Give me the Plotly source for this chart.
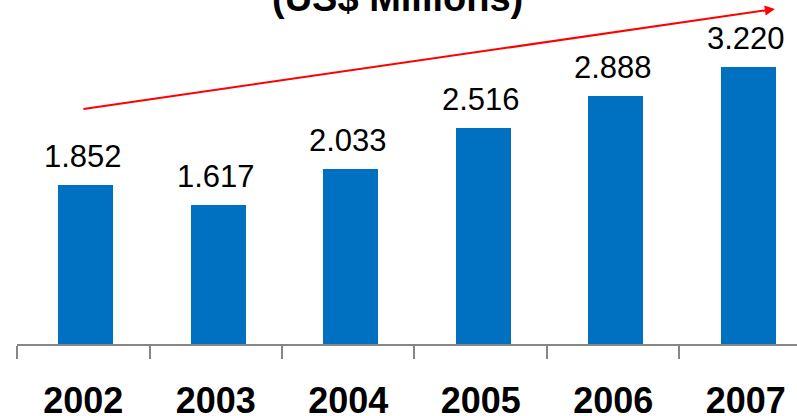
import plotly.graph_objects as go

# Data
years = ['2002', '2003', '2004', '2005', '2006', '2007']
revenue = [1.852, 1.617, 2.033, 2.516, 2.888, 3.220]
value_labels = ['1.852', '1.617', '2.033', '2.516', '2.888', '3.220']

FONT = 'Liberation Sans, Arial, sans-serif'
BAR_COLOR = '#0070C0'
AXIS_COLOR = '#868686'

fig = go.Figure()

fig.add_trace(go.Bar(
    x=years,
    y=revenue,
    marker=dict(color=BAR_COLOR, line=dict(width=0)),
    width=0.415,
    offset=-0.19,
    hoverinfo='x+y',
))

# Value labels above each bar (category index used as x position)
for i, (val, lbl) in enumerate(zip(revenue, value_labels)):
    fig.add_annotation(
        x=i, y=val, text=lbl,
        xref='x', yref='y',
        showarrow=False,
        yanchor='bottom',
        yshift=9,
        font=dict(family=FONT, size=31, color='black'),
    )

# Red trend arrow
fig.add_annotation(
    x=5.22, y=3.895, ax=-0.01, ay=2.73,
    xref='x', yref='y', axref='x', ayref='y',
    text='', showarrow=True,
    arrowhead=2, arrowsize=1, arrowwidth=2, arrowcolor='#FF0000',
)

# Title (cropped at top in the reference)
fig.add_annotation(
    x=(397 - 17) / 780, y=0.939,
    xref='paper', yref='paper',
    text='<b>(US$ Millions)</b>',
    showarrow=False,
    xanchor='center', yanchor='bottom',
    font=dict(family=FONT, size=38, color='black'),
)

fig.update_layout(
    width=797,
    height=416,
    margin=dict(l=17, r=0, t=0, b=72, autoexpand=False),
    paper_bgcolor='white',
    plot_bgcolor='white',
    showlegend=False,
    bargap=0,
    xaxis=dict(
        type='category',
        range=[-0.5, 5.387],
        automargin=False,
        showline=True,
        linecolor=AXIS_COLOR,
        linewidth=2,
        ticks='outside',
        tickson='boundaries',
        ticklen=13,
        tickwidth=2,
        tickcolor=AXIS_COLOR,
        showgrid=False,
        ticklabelstandoff=24,
        tickfont=dict(family=FONT, size=36, color='black', weight='bold'),
    ),
    yaxis=dict(
        range=[0, 4.0],
        visible=False,
        automargin=False,
        showgrid=False,
        zeroline=False,
    ),
)

# remove the default page margin so the figure sits at the window's corner
fig.write_html(
    "out.html",
    config={'displayModeBar': False},
    post_script="document.body.style.margin='0';",
)
